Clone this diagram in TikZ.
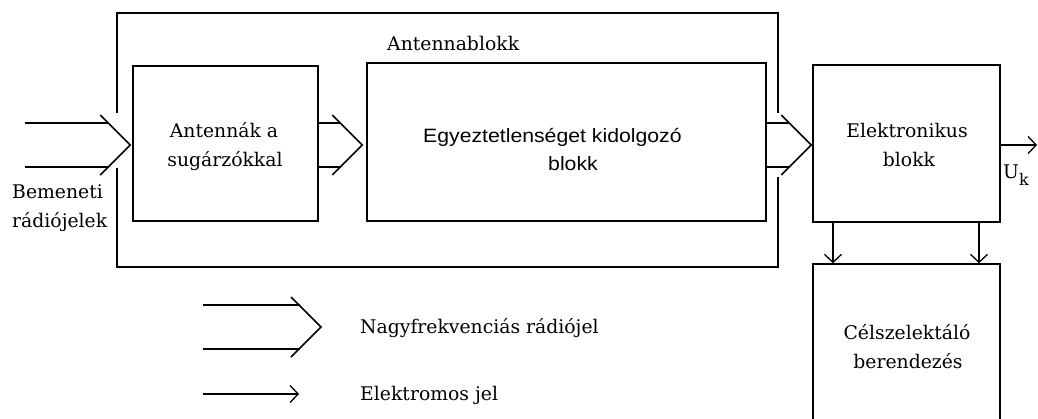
\documentclass[tikz,border=0pt]{standalone}
\usepackage{fontspec}
\setmainfont{DejaVu Serif}
\newfontfamily\sansf{Liberation Sans}[FakeStretch=1.1]
\usetikzlibrary{arrows.meta,calc}
\newcommand\dblarrow[2]{%
  \draw[wire] ($(#1)+(0,-22)$) -- ($(#2)+(-21,-22)$);
  \draw[wire] ($(#1)+(0,22)$) -- ($(#2)+(-21,22)$);
  \draw[wire] ($(#2)+(-30,-30)$) -- (#2) -- ($(#2)+(-30,30)$);}
\begin{document}
\begin{tikzpicture}[x=1pt,y=-1pt,
  wire/.style={line width=1.5pt},
  sig/.style={wire,-{Straight Barb[length=8pt,width=17pt,line width=1.3pt]}},
  box/.style={draw,line width=1.5pt,inner sep=0pt},
  lbl/.style={inner sep=0pt,font=\fontsize{18.8}{29}\selectfont},
  slbl/.style={inner sep=0pt,font=\sansf\fontsize{19.3}{29}\selectfont}]
\useasboundingbox (0,0) rectangle (1038,418);
\clip (0,0) rectangle (1038,418);
% boxes
\node[minimum width=661pt,minimum height=254pt,inner sep=0pt] (ant) at (447.5,140) {};
\draw[wire] (ant.west |- 0,113) -- (ant.north west) -- (ant.north east) -- (ant.east |- 0,113);
\draw[wire] (ant.west |- 0,168) -- (ant.south west) -- (ant.south east) -- (ant.east |- 0,177);
\node[box,minimum width=185pt,minimum height=155pt] (b1) at (225.5,143.5) {};
\node[box,minimum width=399pt,minimum height=158pt] (b2) at (566.5,142) {};
\node[box,minimum width=187pt,minimum height=157pt] (b3) at (906.5,143.5) {};
\node[box,minimum width=187pt,minimum height=176pt] (b4) at (906.5,352) {};
% texts
\node[lbl,anchor=base west] (tant) at (387,50) {Antennablokk};
\node[lbl,anchor=base] (t1a) at (224,137) {Antennák a};
\node[lbl,anchor=base] (t1b) at (225,166) {sugárzókkal};
\node[slbl,anchor=base west] (t2a) at (423,142) {Egyeztetlenséget kidolgozó};
\node[slbl,anchor=base] (t2b) at (573,170) {blokk};
\node[lbl,anchor=base] (t3a) at (907,137) {Elektronikus};
\node[lbl,anchor=base] (t3b) at (909,166) {blokk};
\node[lbl,anchor=base] (t4a) at (907,339) {Célszelektáló};
\node[lbl,anchor=base] (t4b) at (908,368) {berendezés};
\node[lbl,anchor=base west] (tin1) at (12,198) {Bemeneti};
\node[lbl,anchor=base west] (tin2) at (12,227) {rádiójelek};
\node[lbl,anchor=base west] (tuk) at (1003,178) {U\raisebox{-7pt}{\fontsize{16}{16}\selectfont k}};
\node[lbl,anchor=base west] (tlg1) at (360,333) {Nagyfrekvenciás rádiójel};
\node[lbl,anchor=base west] (tlg2) at (360,400) {Elektromos jel};
% double arrows
\coordinate (in) at (25,145);
\coordinate (tip0) at ($(b1.west |- in)+(-2,0)$);
\dblarrow{in}{tip0}
\coordinate (tip1) at ($(b2.west |- in)+(-4,0)$);
\dblarrow{b1.east |- in}{tip1}
\coordinate (tip2) at ($(b3.west |- in)+(-1,0)$);
\dblarrow{b2.east |- in}{tip2}
\coordinate (lg1s) at (203,327);
\coordinate (lg1t) at (321,327);
\dblarrow{lg1s}{lg1t}
% single arrows
\coordinate (out) at (1037,145);
\draw[sig] (b3.east |- out) -- (out);
\draw[sig] (b3.south -| 833,0) -- (b4.north -| 833,0);
\draw[sig] (b3.south -| 979,0) -- (b4.north -| 979,0);
\coordinate (lg2s) at (203,394);
\coordinate (lg2t) at (299,394);
\draw[sig] (lg2s) -- (lg2t);
\end{tikzpicture}
\end{document}
